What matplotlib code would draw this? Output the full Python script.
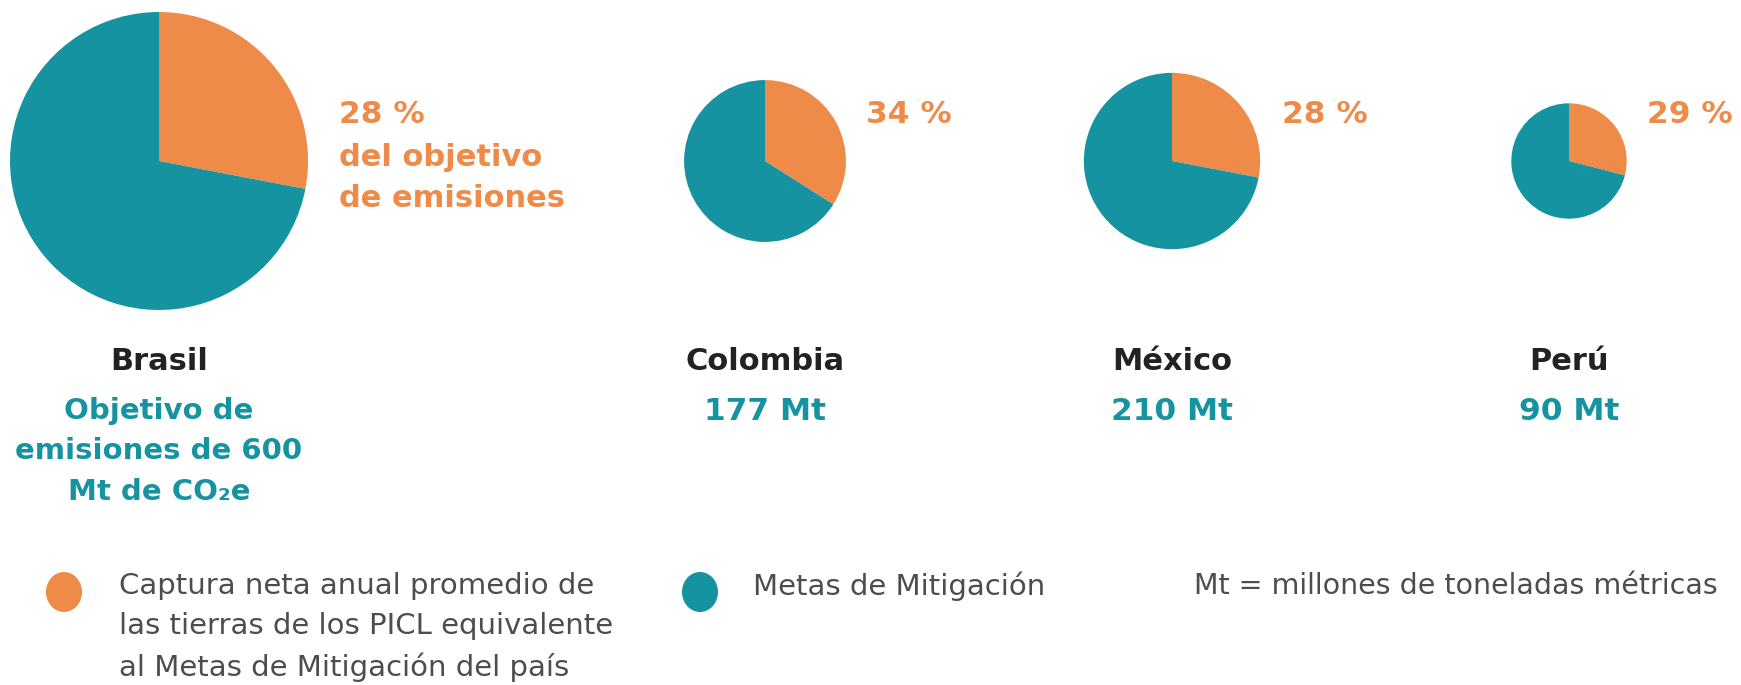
import numpy as np
import matplotlib
matplotlib.use("Agg")
import matplotlib.pyplot as plt
from matplotlib.patches import Ellipse

# data
countries = ['Brasil', 'Colombia', 'México', 'Perú']
targets_mt = [600, 177, 210, 90]
capture_pct = [28, 34, 28, 29]
target_labels = ['Objetivo de\nemisiones de 600\nMt de CO\u2082e', '177 Mt', '210 Mt', '90 Mt']

legend_labels = ['Captura neta anual promedio de\nlas tierras de los PICL equivalente\nal Metas de Mitigación del país',
                 'Metas de Mitigación']
note = 'Mt = millones de toneladas métricas'

ORANGE = '#EF8B48'
TEAL = '#1693A1'
DARK = '#222222'
GREY = '#4d4d4d'

W, H = 1741, 685
fig = plt.figure(figsize=(W / 100, H / 100), dpi=100)
ax = fig.add_axes([0, 0, 1, 1])

def Y(y):
    # layout measured from the top of the picture
    return H - y

centers_x = [159, 765, 1172, 1569]
pie_y = 161
r_max = 149

for cx, mt, pct in zip(centers_x, targets_mt, capture_pct):
    r = r_max * np.sqrt(mt / max(targets_mt))
    ax.pie([pct, 100 - pct], colors=[ORANGE, TEAL], startangle=90, counterclock=False,
           center=(cx, Y(pie_y)), radius=r, wedgeprops=dict(linewidth=0))

# percentage labels
pct_x = [339, 866, 1282, 1647]
for px, pct in zip(pct_x, capture_pct):
    ax.text(px, Y(114), f'{pct} %', color=ORANGE, fontsize=22.5, fontweight='bold',
            ha='left', va='center')
ax.text(pct_x[0], Y(157), 'del objetivo', color=ORANGE, fontsize=22, fontweight='bold',
        ha='left', va='center')
ax.text(pct_x[0], Y(198), 'de emisiones', color=ORANGE, fontsize=22, fontweight='bold',
        ha='left', va='center')

# country names and targets
for cx, name, lab in zip(centers_x, countries, target_labels):
    ax.text(cx, Y(361), name, color=DARK, fontsize=22, fontweight='bold', ha='center', va='center')
    fs = 21 if '\n' in lab else 22.5
    ax.text(cx, Y(397), lab, color=TEAL, fontsize=fs, fontweight='bold', ha='center', va='top',
            linespacing=1.56)

# legend
ax.add_patch(Ellipse((64, Y(592)), 36, 40, color=ORANGE, lw=0))
ax.text(119, Y(572), legend_labels[0], color=GREY, fontsize=21, ha='left', va='top',
        linespacing=1.53)
ax.add_patch(Ellipse((700, Y(592)), 36, 40, color=TEAL, lw=0))
ax.text(753, Y(586), legend_labels[1], color=GREY, fontsize=21, ha='left', va='center')
ax.text(1194, Y(586), note, color=GREY, fontsize=20.5, ha='left', va='center')

ax.set_xlim(0, W)
ax.set_ylim(0, H)
ax.set_aspect('equal')
ax.axis('off')

fig.savefig('out.png', dpi=100, facecolor='white')
